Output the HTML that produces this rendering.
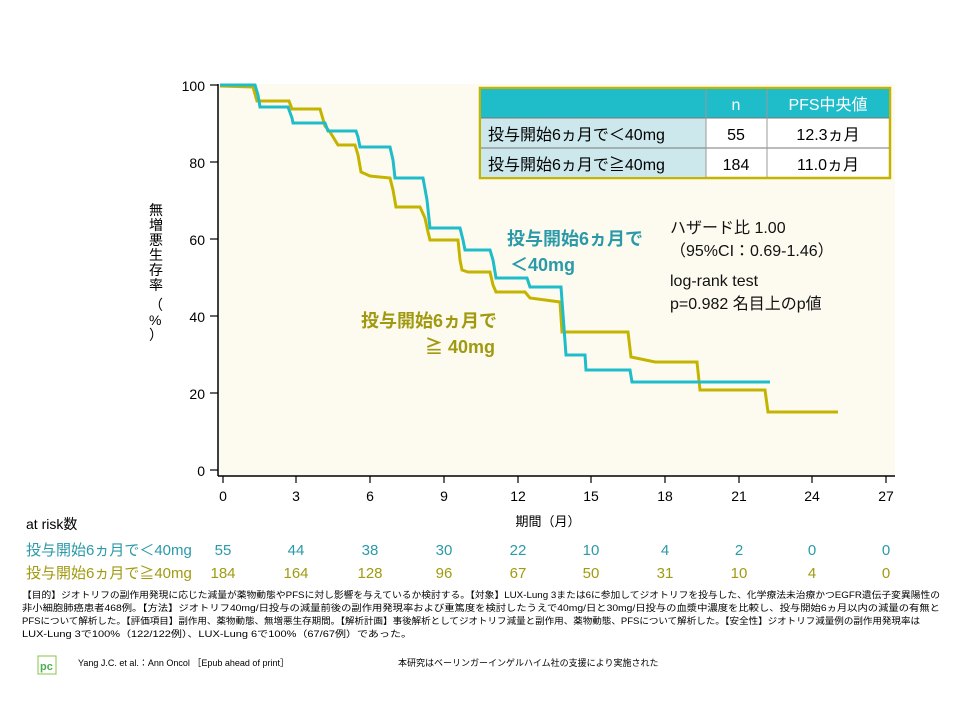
<!DOCTYPE html>
<html><head><meta charset="utf-8"><style>
body{margin:0;width:960px;height:720px;background:#fff;position:relative;overflow:hidden;font-family:"Liberation Sans","Noto Sans CJK JP",sans-serif;}
</style></head><body>
<svg width="960" height="720" style="position:absolute;left:0;top:0" font-family="Liberation Sans, Noto Sans CJK JP, sans-serif">
<rect x="218" y="84" width="677" height="392" fill="#fdfbf0"/>
<line x1="218" y1="84" x2="218" y2="476" stroke="#000" stroke-width="1.5"/>
<line x1="218" y1="476" x2="895" y2="476" stroke="#000" stroke-width="1.5"/>
<g stroke="#000" stroke-width="1.2">
<line x1="210" y1="85" x2="218" y2="85"/><line x1="210" y1="162" x2="218" y2="162"/><line x1="210" y1="239" x2="218" y2="239"/><line x1="210" y1="316" x2="218" y2="316"/><line x1="210" y1="393" x2="218" y2="393"/><line x1="210" y1="470" x2="218" y2="470"/>
<line x1="223" y1="476" x2="223" y2="483"/><line x1="296" y1="476" x2="296" y2="483"/><line x1="370" y1="476" x2="370" y2="483"/><line x1="444" y1="476" x2="444" y2="483"/><line x1="518" y1="476" x2="518" y2="483"/><line x1="591" y1="476" x2="591" y2="483"/><line x1="665" y1="476" x2="665" y2="483"/><line x1="739" y1="476" x2="739" y2="483"/><line x1="812" y1="476" x2="812" y2="483"/><line x1="886" y1="476" x2="886" y2="483"/>
</g>
<g font-size="14" fill="#000" text-anchor="end">
<text x="205" y="91">100</text><text x="205" y="168">80</text><text x="205" y="245">60</text><text x="205" y="322">40</text><text x="205" y="399">20</text><text x="205" y="476">0</text>
</g>
<g font-size="14" fill="#000" text-anchor="middle">
<text x="223" y="501">0</text><text x="296" y="501">3</text><text x="370" y="501">6</text><text x="444" y="501">9</text><text x="518" y="501">12</text><text x="591" y="501">15</text><text x="665" y="501">18</text><text x="739" y="501">21</text><text x="812" y="501">24</text><text x="886" y="501">27</text>
<text x="548" y="526" font-size="13">期間（月）</text>
</g>
<polyline fill="none" stroke="#c4b400" stroke-width="3" points="220,86 253,87 257,101 289,101 292,109 320,109 325,126 330,132 338,145 355,145 358,155 361,172 370,176 390,178 393,190 396,207 420,207 425,218 428,232 430,240 458,240 460,260 462,270 468,272 490,272 493,285 496,292 525,292 530,298 560,302 562,332 628,332 631,357 655,362 697,362 700,390 765,390 768,412 838,412"/>
<polyline fill="none" stroke="#1fbcca" stroke-width="3" points="220,85 255,85 258,95 260,107 288,107 292,118 293,123 325,123 328,131 356,131 358,137 360,147 390,147 393,160 395,178 423,178 427,200 430,228 460,228 463,240 465,250 490,250 493,260 496,278 527,278 530,287 561,287 566,355 585,355 586,370 630,370 632,382 770,382"/>
<rect x="480" y="88" width="410" height="90" fill="#fff" stroke="#c4b400" stroke-width="2.5"/>
<rect x="481" y="89" width="408" height="29" fill="#1fbcca"/>
<rect x="481" y="118" width="225" height="59" fill="#cce8ec"/>
<line x1="481" y1="148" x2="889" y2="148" stroke="#777"/>
<line x1="481" y1="118" x2="889" y2="118" stroke="#777"/>
<line x1="706" y1="89" x2="706" y2="177" stroke="#999"/>
<line x1="767" y1="89" x2="767" y2="177" stroke="#999"/>
<g font-size="16" text-anchor="middle">
<text x="736" y="110" fill="#fff">n</text><text x="828" y="110" fill="#fff">PFS中央値</text>
<text x="736" y="140">55</text><text x="828" y="140">12.3ヵ月</text>
<text x="736" y="170">184</text><text x="828" y="170">11.0ヵ月</text>
</g>
<g font-size="16"><text x="488" y="140">投与開始6ヵ月で＜40mg</text><text x="488" y="170">投与開始6ヵ月で≧40mg</text></g>
<g font-size="18" font-weight="bold" fill="#2a9aa8"><text x="507" y="245">投与開始6ヵ月で</text><text x="510" y="271">＜40mg</text></g>
<g font-size="18" font-weight="bold" fill="#a19a10"><text x="361" y="327">投与開始6ヵ月で</text><text x="425" y="353">≧ 40mg</text></g>
<g font-size="16" fill="#111"><text x="670" y="233">ハザード比 1.00</text><text x="670" y="256">（95%CI：0.69-1.46）</text><text x="670" y="286">log-rank test</text><text x="670" y="309">p=0.982 名目上のp値</text></g>
<text font-size="14" fill="#000" transform="translate(149,203)"><tspan x="0" y="12">無</tspan><tspan x="0" y="27">増</tspan><tspan x="0" y="42">悪</tspan><tspan x="0" y="57">生</tspan><tspan x="0" y="72">存</tspan><tspan x="0" y="87">率</tspan><tspan x="0" y="107">（</tspan><tspan x="0" y="122">%</tspan><tspan x="0" y="137">）</tspan></text>
<text x="26" y="529" font-size="14">at risk数</text>
<g font-size="15" fill="#2a9aa8"><text x="26" y="555">投与開始6ヵ月で＜40mg</text></g>
<g font-size="15" fill="#a19a10"><text x="26" y="578">投与開始6ヵ月で≧40mg</text></g>
<g font-size="15" fill="#2a9aa8" text-anchor="middle"><text x="223" y="555">55</text><text x="296" y="555">44</text><text x="370" y="555">38</text><text x="444" y="555">30</text><text x="518" y="555">22</text><text x="591" y="555">10</text><text x="665" y="555">4</text><text x="739" y="555">2</text><text x="812" y="555">0</text><text x="886" y="555">0</text></g>
<g font-size="15" fill="#a19a10" text-anchor="middle"><text x="223" y="578">184</text><text x="296" y="578">164</text><text x="370" y="578">128</text><text x="444" y="578">96</text><text x="518" y="578">67</text><text x="591" y="578">50</text><text x="665" y="578">31</text><text x="739" y="578">10</text><text x="812" y="578">4</text><text x="886" y="578">0</text></g>
<g font-size="9" fill="#000">
<text x="22" y="598" textLength="918" lengthAdjust="spacingAndGlyphs">【目的】ジオトリフの副作用発現に応じた減量が薬物動態やPFSに対し影響を与えているか検討する。【対象】LUX-Lung 3または6に参加してジオトリフを投与した、化学療法未治療かつEGFR遺伝子変異陽性の</text>
<text x="22" y="611" textLength="918" lengthAdjust="spacingAndGlyphs">非小細胞肺癌患者468例。【方法】ジオトリフ40mg/日投与の減量前後の副作用発現率および重篤度を検討したうえで40mg/日と30mg/日投与の血漿中濃度を比較し、投与開始6ヵ月以内の減量の有無と</text>
<text x="22" y="624" textLength="898" lengthAdjust="spacingAndGlyphs">PFSについて解析した。【評価項目】副作用、薬物動態、無増悪生存期間。【解析計画】事後解析としてジオトリフ減量と副作用、薬物動態、PFSについて解析した。【安全性】ジオトリフ減量例の副作用発現率は</text>
<text x="22" y="637" textLength="390" lengthAdjust="spacingAndGlyphs">LUX-Lung 3で100%（122/122例）、LUX-Lung 6で100%（67/67例）であった。</text>
<text x="78" y="666">Yang J.C. et al.：Ann Oncol ［Epub ahead of print］</text>
<text x="398" y="666">本研究はベーリンガーインゲルハイム社の支援により実施された</text>
</g>
<rect x="38" y="656" width="18" height="18" fill="#fff" stroke="#8bc34a"/>
<text x="40" y="670" font-size="11" font-weight="bold" fill="#4caf50">pc</text>
</svg>
</body></html>
